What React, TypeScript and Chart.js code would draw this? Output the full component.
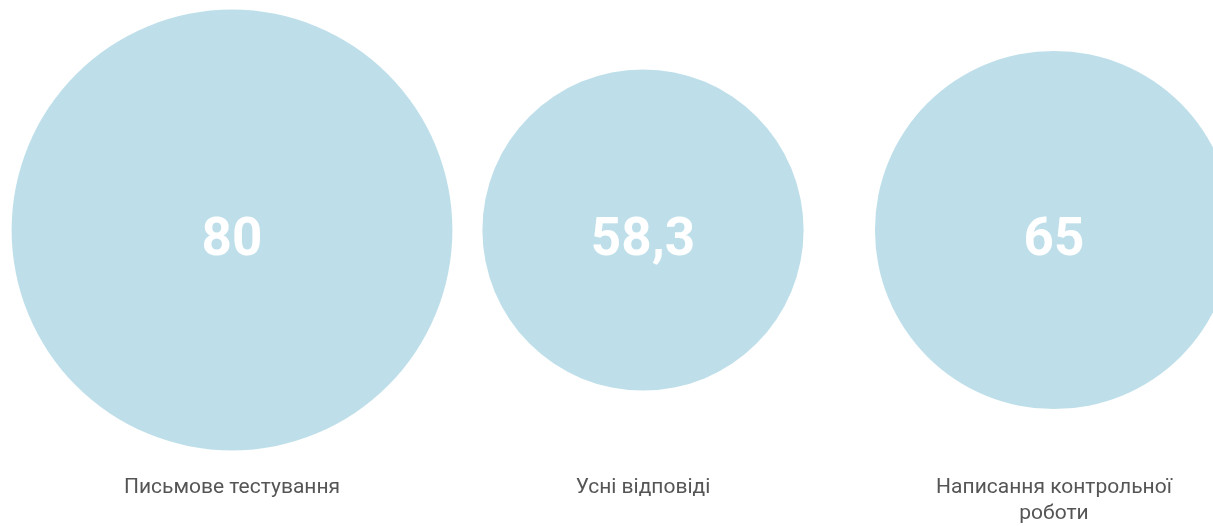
import React, { useEffect, useRef } from "react";
import { Chart, registerables } from "chart.js";

Chart.register(...registerables);

const categories: (string | string[])[] = [
  "Письмове тестування",
  "Усні відповіді",
  ["Написання контрольної", "роботи"],
];
const scores: number[] = [80, 58.3, 65];
const valueLabels: string[] = ["80", "58,3", "65"];

const RADIUS_PER_POINT = 2.755;

const valueTextPlugin = {
  id: "valueText",
  afterDatasetsDraw(chart: any) {
    const ctx = chart.ctx;
    const meta = chart.getDatasetMeta(0);
    ctx.save();
    ctx.fillStyle = "#ffffff";
    ctx.font = "bold 53px Roboto";
    ctx.textAlign = "center";
    ctx.textBaseline = "alphabetic";
    meta.data.forEach((el: any, i: number) => {
      ctx.fillText(valueLabels[i], el.x, el.y + 25);
    });
    ctx.restore();
  },
};

export default function App() {
  const canvasRef = useRef<HTMLCanvasElement | null>(null);

  useEffect(() => {
    document.body.style.margin = "0";
    const canvas = canvasRef.current;
    if (!canvas) return;
    const chart = new Chart(canvas, {
      type: "bubble",
      data: {
        datasets: [
          {
            data: scores.map((v, i) => ({ x: i, y: 0, r: v * RADIUS_PER_POINT })),
            backgroundColor: "#BEDFEA",
            hoverBackgroundColor: "#BEDFEA",
            borderWidth: 0,
            hoverBorderWidth: 0,
            clip: false as any,
          },
        ],
      },
      options: {
        animation: false,
        responsive: true,
        maintainAspectRatio: false,
        layout: { autoPadding: false, padding: { left: 26.5, right: 0.5, top: 0, bottom: 0 } },
        plugins: {
          legend: { display: false },
          tooltip: { enabled: false },
        },
        scales: {
          x: {
            type: "linear",
            min: -0.5,
            max: categories.length - 0.5,
            afterBuildTicks: (axis: any) => {
              axis.ticks = categories.map((_, i) => ({ value: i }));
            },
            afterFit: (axis: any) => {
              axis.height = 66;
            },
            grid: { display: false, drawTicks: false },
            border: { display: false },
            ticks: {
              padding: 15,
              color: "#555555",
              font: { family: "Roboto", size: 21, lineHeight: 1.24 },
              maxRotation: 0,
              minRotation: 0,
              autoSkip: false,
              callback: (value: any) => categories[Math.round(Number(value))] as any,
            },
          },
          y: {
            display: false,
            min: -1,
            max: 1,
          },
        },
      },
      plugins: [valueTextPlugin],
    });
    return () => chart.destroy();
  }, []);

  return (
    <div style={{ width: 1213, height: 526, overflow: "hidden" }}>
      <div style={{ width: 1260, height: 526, position: "relative" }}>
        <canvas ref={canvasRef} />
      </div>
    </div>
  );
}
